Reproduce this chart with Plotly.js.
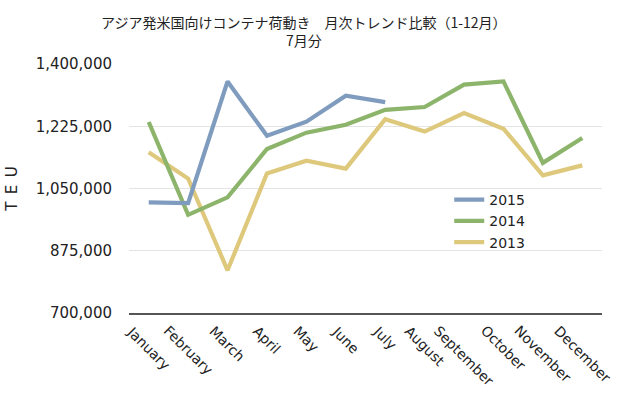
<!DOCTYPE html>
<html>
<head>
<meta charset="utf-8">
<script src="https://cdn.plot.ly/plotly-3.0.1.min.js"></script>
<style>html,body{margin:0;padding:0;background:#fff;}#chart{width:620px;height:394px;}</style>
</head>
<body>
<div id="chart"></div>
<script>
const months = ["January","February","March","April","May","June","July","August","September","October","November","December"];
const teu2015 = [1011000, 1009000, 1351000, 1198000, 1238000, 1311000, 1293000];
const teu2014 = [1237000, 976000, 1025000, 1161000, 1207000, 1229000, 1271000, 1279000, 1342000, 1351000, 1122000, 1192000];
const teu2013 = [1152000, 1078000, 820000, 1092000, 1128000, 1106000, 1245000, 1210000, 1262000, 1218000, 1087000, 1115000];
const yTicks = [700000, 875000, 1050000, 1225000, 1400000];
const titleText = "アジア発米国向けコンテナ荷動き　月次トレンド比較（1-12月）<br>7月分";

const latin = "DejaVu Sans, Noto Sans CJK JP, sans-serif";
const cjk = "Noto Sans CJK JP, sans-serif";

function series(name, y, color) {
  return {
    type: "scatter", mode: "lines", name: name,
    x: months.slice(0, y.length), y: y,
    line: {color: color, width: 4.2}
  };
}

const data = [
  series("2013", teu2013, "#dec87b"),
  series("2014", teu2014, "#8db46b"),
  series("2015", teu2015, "#7f9cbe")
];

const labelAnnotations = months.map(m => ({
  x: m, xref: "x", y: 0, yref: "paper",
  yanchor: "top", xanchor: "center", yshift: -7,
  text: m, textangle: 45, showarrow: false,
  font: {family: latin, size: 14, color: "#222"}
}));

const layout = {
  width: 620, height: 394,
  margin: {l: 129, r: 18, t: 64, b: 81},
  paper_bgcolor: "#fff", plot_bgcolor: "#fff",
  title: {
    text: titleText, x: 0.49, xanchor: "center", y: 0.93, yanchor: "top",
    yref: "container",
    font: {family: cjk, size: 14, color: "#222"}
  },
  showlegend: true,
  legend: {
    x: 0.677, xanchor: "left", y: 0.369, yanchor: "middle",
    traceorder: "reversed", bgcolor: "rgba(0,0,0,0)",
    font: {family: latin, size: 14, color: "#222"},
    tracegroupgap: 0, itemwidth: 30
  },
  xaxis: {
    type: "category", range: [-0.5, 11.5],
    showticklabels: false, showgrid: false, zeroline: false,
    showline: true, linecolor: "#555", linewidth: 1.5, ticks: ""
  },
  yaxis: {
    range: [700000, 1400000], tickvals: yTicks, tickformat: ",d",
    showgrid: true, gridcolor: "#e4e4e4", gridwidth: 1,
    zeroline: false, showline: false, ticks: "",
    tickfont: {family: latin, size: 15, color: "#222"},
    ticklabelstandoff: 16,
    title: {text: "T\u2002E\u2002U", standoff: 14, font: {family: latin, size: 15, color: "#222"}},
    automargin: false
  },
  annotations: labelAnnotations
};

Plotly.newPlot("chart", data, layout, {displayModeBar: false, staticPlot: true});
</script>
</body>
</html>
